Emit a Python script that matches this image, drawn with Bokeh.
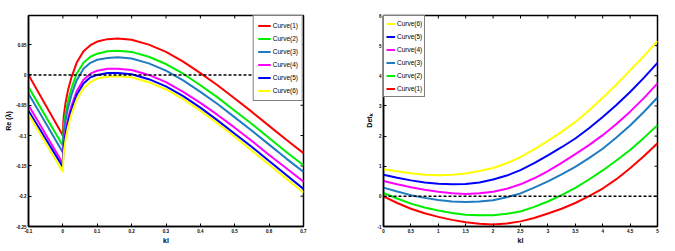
import math
from bokeh.plotting import figure
from bokeh.layouts import row
from bokeh.models import Span, FixedTicker, Range1d, Legend, LegendItem
from bokeh.embed import file_html
from bokeh.resources import INLINE

# ---------------- data: left panel (Re(lambda) vs kl) ----------------
left_x = [-0.1, 0.0, 0.001, 0.003, 0.008, 0.015, 0.025, 0.04, 0.06, 0.08, 0.1, 0.13,
          0.16, 0.2, 0.25, 0.3, 0.35, 0.4, 0.45, 0.5, 0.55, 0.6, 0.65, 0.7]
left_c1 = [0.000, -0.100, -0.081, -0.066, -0.045, -0.025, -0.004, 0.020, 0.039, 0.049, 0.055, 0.059,
           0.060, 0.058, 0.050, 0.038, 0.022, 0.003, -0.017, -0.039, -0.061, -0.084, -0.107, -0.129]
left_c2 = [-0.020, -0.117, -0.098, -0.083, -0.063, -0.043, -0.022, 0.002, 0.020, 0.030, 0.035, 0.039,
           0.040, 0.038, 0.030, 0.018, 0.002, -0.017, -0.037, -0.059, -0.081, -0.104, -0.127, -0.149]
left_c3 = [-0.031, -0.128, -0.109, -0.094, -0.074, -0.054, -0.033, -0.009, 0.010, 0.020, 0.025, 0.028,
           0.029, 0.027, 0.019, 0.007, -0.009, -0.028, -0.048, -0.070, -0.092, -0.115, -0.138, -0.160]
left_c4 = [-0.050, -0.146, -0.127, -0.112, -0.092, -0.072, -0.051, -0.027, -0.008, 0.002, 0.007, 0.010,
           0.010, 0.008, 0.000, -0.012, -0.028, -0.046, -0.066, -0.087, -0.109, -0.132, -0.154, -0.176]
left_c5 = [-0.059, -0.152, -0.133, -0.118, -0.098, -0.078, -0.057, -0.033, -0.014, -0.004, 0.000, 0.003,
           0.003, 0.001, -0.007, -0.019, -0.035, -0.054, -0.075, -0.097, -0.119, -0.142, -0.165, -0.188]
left_c6 = [-0.065, -0.160, -0.141, -0.126, -0.106, -0.086, -0.065, -0.041, -0.022, -0.012, -0.006, -0.003,
           -0.002, -0.004, -0.012, -0.024, -0.040, -0.059, -0.080, -0.102, -0.125, -0.148, -0.171, -0.194]

left_xticks = [-0.1, 0.0, 0.1, 0.2, 0.3, 0.4, 0.5, 0.6, 0.7]
left_xtick_labels = ["-0.1", "0", "0.1", "0.2", "0.3", "0.4", "0.5", "0.6", "0.7"]
left_yticks = [-0.25, -0.2, -0.15, -0.1, -0.05, 0.0, 0.05]
left_ytick_labels = ["-0.25", "-0.2", "-0.15", "-0.1", "-0.05", "0", "0.05"]

# ---------------- data: right panel (Det_k vs kl) ----------------
right_x = [0.0, 0.25, 0.5, 0.75, 1.0, 1.25, 1.5, 1.75, 2.0, 2.25, 2.5, 2.75, 3.0,
           3.25, 3.5, 3.75, 4.0, 4.25, 4.5, 4.75, 5.0]
right_c1 = [0.00, -0.22, -0.41, -0.56, -0.68, -0.78, -0.86, -0.91, -0.93, -0.90, -0.83, -0.72, -0.57,
            -0.41, -0.22, 0.01, 0.26, 0.57, 0.93, 1.33, 1.76]
right_c2 = [0.11, -0.07, -0.24, -0.37, -0.47, -0.55, -0.61, -0.63, -0.63, -0.58, -0.50, -0.35, -0.17,
            0.04, 0.28, 0.56, 0.86, 1.19, 1.54, 1.94, 2.36]
right_c3 = [0.29, 0.16, 0.04, -0.05, -0.12, -0.17, -0.19, -0.17, -0.13, -0.03, 0.10, 0.29, 0.50,
            0.73, 0.98, 1.27, 1.58, 1.95, 2.35, 2.80, 3.28]
right_c4 = [0.51, 0.40, 0.30, 0.22, 0.15, 0.10, 0.08, 0.10, 0.15, 0.25, 0.40, 0.60, 0.84,
            1.11, 1.40, 1.70, 2.03, 2.40, 2.81, 3.26, 3.75]
right_c5 = [0.72, 0.62, 0.53, 0.46, 0.42, 0.40, 0.41, 0.46, 0.56, 0.69, 0.87, 1.10, 1.36,
            1.63, 1.92, 2.26, 2.63, 3.03, 3.46, 3.93, 4.43]
right_c6 = [0.90, 0.83, 0.77, 0.72, 0.70, 0.72, 0.76, 0.84, 0.94, 1.10, 1.30, 1.56, 1.84,
            2.14, 2.47, 2.85, 3.27, 3.71, 4.18, 4.65, 5.15]

right_xticks = [0, 0.5, 1, 1.5, 2, 2.5, 3, 3.5, 4, 4.5, 5]
right_xtick_labels = ["0", "0.5", "1", "1.5", "2", "2.5", "3", "3.5", "4", "4.5", "5"]
right_yticks = [-1, 0, 1, 2, 3, 4, 5, 6]
right_ytick_labels = ["-1", "0", "1", "2", "3", "4", "5", "6"]

curve_names = ["Curve(1)", "Curve(2)", "Curve(3)", "Curve(4)", "Curve(5)", "Curve(6)"]
curve_colors = ["#FF0000", "#00EE00", "#1F7CC1", "#FF00FF", "#0000FF", "#FFFF00"]

FONT = "Liberation Sans"


def style_axis(ax, ticks, labels, axis_label):
    ax.ticker = FixedTicker(ticks=ticks)
    ax.major_label_overrides = {t: l for t, l in zip(ticks, labels)}
    ax.major_tick_in = 3
    ax.major_tick_out = 0
    ax.minor_tick_line_color = None
    ax.axis_line_color = "black"
    ax.axis_line_width = 1.5
    ax.major_tick_line_color = "black"
    ax.major_tick_line_width = 1
    ax.major_label_text_font = FONT
    ax.major_label_text_font_style = "bold"
    ax.major_label_text_color = "black"
    ax.major_label_text_font_size = "4.5px"
    ax.major_label_standoff = 2
    ax.axis_label = axis_label
    ax.axis_label_text_font = FONT
    ax.axis_label_text_font_size = "7px"
    ax.axis_label_text_font_style = "bold"
    ax.axis_label_text_color = "black"
    ax.axis_label_standoff = 1


def make_panel(width, xr, yr, xt, xtl, yt, ytl, xlabel, ylabel, border_left, border_right):
    p = figure(width=width, height=251, x_range=Range1d(*xr), y_range=Range1d(*yr),
               output_backend="svg", toolbar_location=None,
               min_border_left=border_left, min_border_right=border_right,
               min_border_top=15, min_border_bottom=25)
    p.xgrid.visible = False
    p.ygrid.visible = False
    p.outline_line_color = "black"
    p.outline_line_width = 1.5
    p.background_fill_color = "white"
    style_axis(p.xaxis[0], xt, xtl, xlabel)
    style_axis(p.yaxis[0], yt, ytl, ylabel)
    # inward tick marks on the top and right edges of the box (clipped to the frame)
    p.scatter(xt, [yr[1]] * len(xt), marker="dash", angle=math.pi / 2, size=6,
              line_color="black", line_width=1)
    p.scatter([xr[1]] * len(yt), yt, marker="dash", size=6,
              line_color="black", line_width=1)
    return p


# ---------------- left panel ----------------
p1 = make_panel(333, (-0.1, 0.7), (-0.25, 0.098), left_xticks, left_xtick_labels,
                left_yticks, left_ytick_labels, "kl", "Re (\u03bb)", 28, 30)
left_series = [left_c1, left_c2, left_c3, left_c4, left_c5, left_c6]
items1 = []
for name, col, ys in zip(curve_names, curve_colors, left_series):
    r = p1.line(left_x, ys, line_color=col, line_width=2)
    items1.append(LegendItem(label=name, renderers=[r]))
zero1 = Span(location=0, dimension="width", line_color="black", line_dash="3 2",
             line_width=1.5, level="overlay")
p1.add_layout(zero1)
leg1 = Legend(items=items1, location="top_right", margin=0, padding=4, spacing=2,
              glyph_width=13, glyph_height=11, label_height=11, label_standoff=2,
              label_text_font=FONT, label_text_font_size="6.5px", label_text_color="black",
              border_line_color="black", border_line_width=1.2,
              background_fill_color="white", background_fill_alpha=1)
p1.add_layout(leg1)

# ---------------- right panel ----------------
p2 = make_panel(342, (0, 5), (-1, 6), right_xticks, right_xtick_labels,
                right_yticks, right_ytick_labels, "kl", "Det\u2096", 50, 18)
right_series = [right_c1, right_c2, right_c3, right_c4, right_c5, right_c6]
rends2 = []
for name, col, ys in zip(curve_names, curve_colors, right_series):
    r = p2.line(right_x, ys, line_color=col, line_width=2)
    rends2.append(LegendItem(label=name, renderers=[r]))
zero2 = Span(location=0, dimension="width", line_color="black", line_dash="3 2",
             line_width=1.5)
p2.add_layout(zero2)
leg2 = Legend(items=list(reversed(rends2)), location="top_left", margin=0, padding=2, spacing=2,
              glyph_width=9, glyph_height=11, label_height=11, label_standoff=2,
              label_text_font=FONT, label_text_font_size="6.5px", label_text_color="black",
              border_line_color="black", border_line_width=1.2,
              background_fill_color="white", background_fill_alpha=1)
p2.add_layout(leg2)

layout = row(p1, p2)
open("out.html", "w").write(file_html(layout, INLINE))
